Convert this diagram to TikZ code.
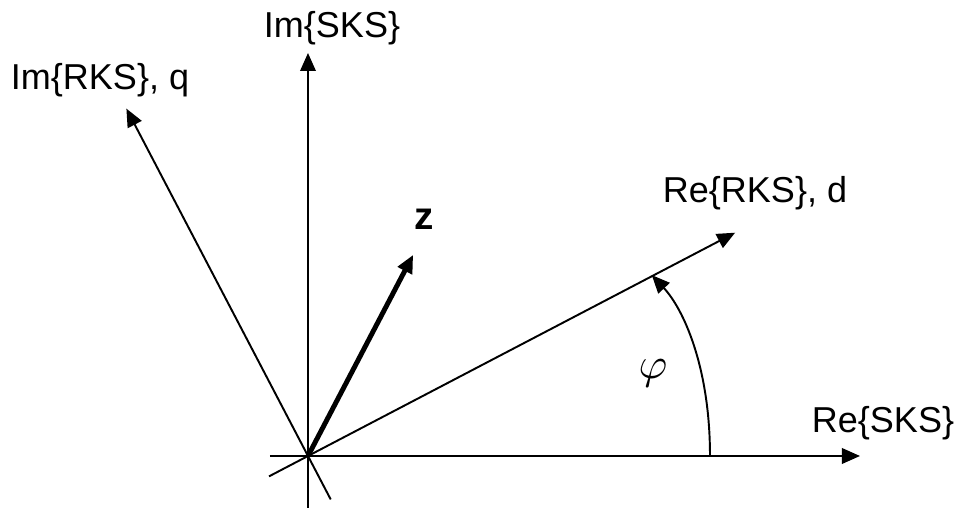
\documentclass[tikz,border=0pt]{standalone}
\usepackage{fontspec}
\setmainfont{Liberation Sans}
\usetikzlibrary{arrows.meta}
\begin{document}
\begin{tikzpicture}[
    axis/.style={line width=1.1pt, -{Triangle[length=0.36cm, width=0.31cm]}},
    lbl/.style={font=\fontsize{20.5}{24}\selectfont, inner sep=0pt}]
  \useasboundingbox (-6.16,-1.04) rectangle (13.02,9.12);
  \coordinate (O) at (0,0);
  \coordinate (reSKSstart) at (-0.76,0);
  \coordinate (reSKS) at (11.04,0);
  \coordinate (imSKSstart) at (0,-1.1);
  \coordinate (imSKS) at (0,8.06);
  \coordinate (reRKSstart) at (207.6:0.88);
  \coordinate (reRKS) at (27.6:9.64);
  \coordinate (imRKSstart) at (297.6:0.98);
  \coordinate (imRKS) at (117.6:7.84);
  \coordinate (zTip) at (62.4:4.54);
  \coordinate (phiStart) at (8.04,0);
  \coordinate (phiEnd) at (27.75:7.77);
  % stator and rotor axes
  \draw[axis] (reSKSstart) -- (reSKS);
  \draw[axis] (imSKSstart) -- (imSKS);
  \draw[axis] (reRKSstart) -- (reRKS);
  \draw[axis] (imRKSstart) -- (imRKS);
  \draw[axis, line width=2.8pt] (O) -- (zTip);
  \draw[axis] (phiStart) .. controls (8.04,1.8) and (7.5,2.95) .. (phiEnd);
  % labels
  \node[lbl] (imSKSlabel) at (0.48,8.56) {Im\{SKS\}};
  \node[lbl] (imRKSlabel) at (-4.16,7.52) {Im\{RKS\}, q};
  \node[lbl] (reRKSlabel) at (8.94,5.26) {Re\{RKS\}, d};
  \node[lbl] (reSKSlabel) at (11.5,0.66) {Re\{SKS\}};
  \node[lbl, font=\fontsize{22}{24}\selectfont\bfseries] (zlabel) at (2.32,4.74) {z};
  \node[inner sep=0pt, scale=2.5] (philabel) at (6.9,1.66) {$\varphi$};
\end{tikzpicture}
\end{document}
